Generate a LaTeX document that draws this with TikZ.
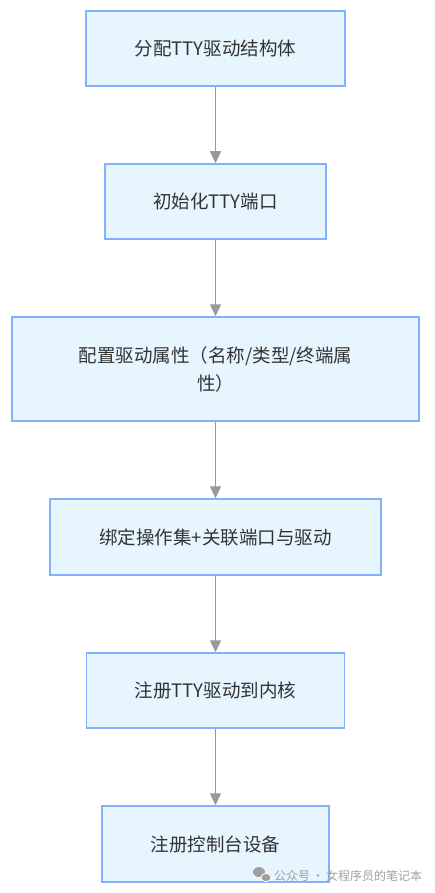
\documentclass[tikz,border=0pt]{standalone}
\usepackage{fontspec}
\setmainfont{Noto Sans CJK SC}
\usetikzlibrary{arrows.meta}
\definecolor{boxfill}{HTML}{E6F5FE}
\definecolor{boxline}{HTML}{82B1FF}
\definecolor{txt}{HTML}{333333}
\definecolor{arr}{HTML}{999999}
\definecolor{wm}{HTML}{A0A0A0}
\begin{document}
\begin{tikzpicture}[x=1pt,y=-1pt,
  stepbox/.style={draw=boxline, line width=1.5pt, fill=boxfill, rectangle,
    inner sep=0pt, text=txt, font=\fontsize{18.5pt}{28pt}\selectfont, align=center},
  flow/.style={draw=arr, line width=1.3pt, -{Triangle[length=12pt,width=11pt]}, color=arr}]
\useasboundingbox (0,0) rectangle (434,893);
\fill[white] (0,0) rectangle (434,893);
\node[stepbox, minimum width=259pt, minimum height=75pt] (b1) at (215.5,48.5) {分配TTY驱动结构体};
\node[stepbox, minimum width=221pt, minimum height=75pt] (b2) at (215.5,201.5) {初始化TTY端口};
\node[stepbox, minimum width=407pt, minimum height=104pt] (b3) at (215.5,369) {配置驱动属性（名称/类型/终端属\\性）};
\node[stepbox, minimum width=331pt, minimum height=76pt] (b4) at (215.5,537) {绑定操作集+关联端口与驱动};
\node[stepbox, minimum width=258pt, minimum height=75pt] (b5) at (215.5,690.5) {注册TTY驱动到内核};
\node[stepbox, minimum width=227pt, minimum height=76pt] (b6) at (215.5,844) {注册控制台设备};
\draw[flow] (b1) -- (b2);
\draw[flow] (b2) -- (b3);
\draw[flow] (b3) -- (b4);
\draw[flow] (b4) -- (b5);
\draw[flow] (b5) -- (b6);
% watermark
\fill[wm, draw=white, line width=0.6pt] (259,872) ellipse [x radius=6.5, y radius=5.5];
\fill[wm, draw=white, line width=0.8pt] (266,877.5) ellipse [x radius=5, y radius=4.2];
\node[anchor=west, inner sep=0pt, text=wm, font=\fontsize{12pt}{14pt}\selectfont] (wmtext) at (274,876) {公众号\,·\,女程序员的笔记本};
\end{tikzpicture}
\end{document}
